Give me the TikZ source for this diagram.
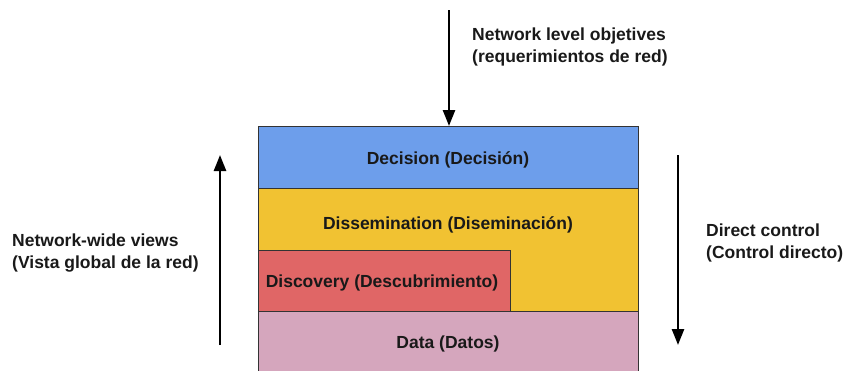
\documentclass[tikz,border=0pt]{standalone}
\usepackage{fontspec}
\setmainfont{Liberation Sans}
\usetikzlibrary{arrows.meta}
\definecolor{cDecision}{HTML}{6D9EEB}
\definecolor{cDissem}{HTML}{F1C232}
\definecolor{cDisc}{HTML}{E06666}
\definecolor{cData}{HTML}{D5A6BD}
\definecolor{cBorder}{HTML}{333333}
\tikzset{
  layer/.style={draw=cBorder, line width=1pt, inner sep=0pt, outer sep=0pt, anchor=north west},
  ltext/.style={font=\bfseries\fontsize{17.5}{22}\selectfont, text=black!90, inner sep=0pt},
  flowarrow/.style={line width=2.5pt, -{Triangle[width=12pt,length=16pt]}},
  side/.style={font=\bfseries\fontsize{17.5}{22}\selectfont, align=left, anchor=west, inner sep=0pt, text=black!90}
}
\begin{document}
\begin{tikzpicture}[x=1pt,y=-1pt]
\useasboundingbox (0,0) rectangle (844,370);
% layers
\node[layer, fill=cData, minimum width=380pt, minimum height=62pt] (data) at (258,311) {};
\node[layer, fill=cDissem, minimum width=380pt, minimum height=123pt] (dissem) at (258,188) {};
\node[layer, fill=cDisc, minimum width=252pt, minimum height=61pt] (disc) at (258,250) {};
\node[layer, fill=cDecision, minimum width=380pt, minimum height=62pt] (decision) at (258,126) {};
% texts
\node[ltext] (tdec) at (448,160) {Decision (Decisión)};
\node[ltext] (tdis) at (448,225) {Dissemination (Diseminación)};
\node[ltext] (tdsc) at (382,283) {Discovery (Descubrimiento)};
\node[ltext] (tdat) at (448,344) {Data (Datos)};
% arrows
\coordinate (topstart) at (449,10);
\coordinate (topend) at (449,126);
\draw[flowarrow] (topstart) -- (topend);
\coordinate (lstart) at (220,345);
\coordinate (lend) at (220,155);
\draw[flowarrow] (lstart) -- (lend);
\coordinate (rstart) at (678,155);
\coordinate (rend) at (678,345);
\draw[flowarrow] (rstart) -- (rend);
% side labels
\node[side] (ltop) at (472,47) {Network level objetives\\(requerimientos de red)};
\node[side] (lleft) at (12,253) {Network-wide views\\(Vista global de la red)};
\node[side] (lright) at (706,243) {Direct control\\(Control directo)};
\end{tikzpicture}
\end{document}
